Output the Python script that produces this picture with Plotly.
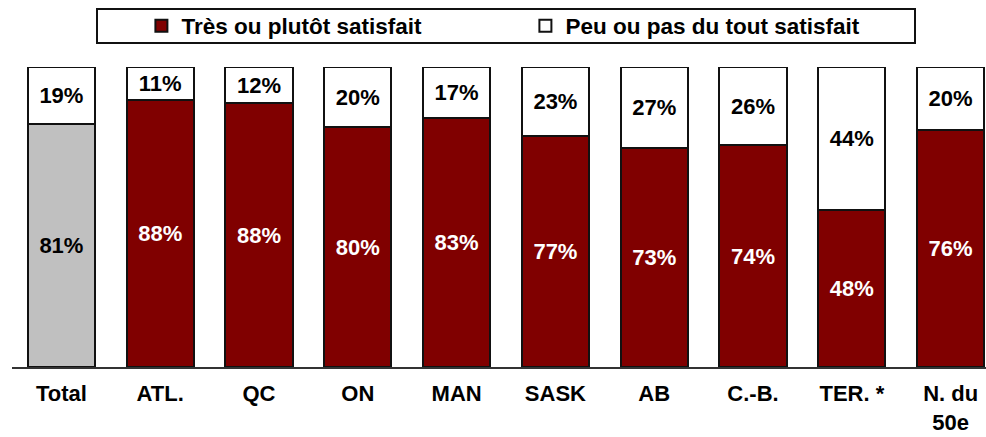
import plotly.graph_objects as go

categories = ["Total", "ATL.", "QC", "ON", "MAN", "SASK", "AB", "C.-B.", "TER. *", "N. du<br>50e"]
satisfied = [81, 88, 88, 80, 83, 77, 73, 74, 48, 76]
unsatisfied = [19, 11, 12, 20, 17, 23, 27, 26, 44, 20]

FONT = "Liberation Sans, Arial, sans-serif"
RED = "#800000"
GRAY = "#C0C0C0"
EDGE = "#111111"

W, H = 986, 437
L, T, B = 12, 67, 70
PW = W - L
PH = H - T - B

fig = go.Figure()

fig.add_trace(go.Bar(
    x=categories[:1], y=satisfied[:1],
    marker=dict(color=GRAY, line=dict(color=EDGE, width=2)),
    text=[f"{v}%" for v in satisfied[:1]],
    textposition="inside", insidetextanchor="middle", textangle=0,
    constraintext="none",
    textfont=dict(family=FONT, size=22, color="black", weight="bold"),
    showlegend=False, hoverinfo="skip",
))
fig.add_trace(go.Bar(
    x=categories[1:], y=satisfied[1:], name="Très ou plutôt satisfait",
    marker=dict(color=RED, line=dict(color=EDGE, width=2)),
    text=[f"{v}%" for v in satisfied[1:]],
    textposition="inside", insidetextanchor="middle", textangle=0,
    constraintext="none",
    textfont=dict(family=FONT, size=22, color="white", weight="bold"),
))
fig.add_trace(go.Bar(
    x=categories, y=unsatisfied, name="Peu ou pas du tout satisfait",
    marker=dict(color="white", line=dict(color=EDGE, width=2)),
    text=[f"{v}%" for v in unsatisfied],
    textposition="inside", insidetextanchor="middle", textangle=0,
    constraintext="none",
    textfont=dict(family=FONT, size=22, color="black", weight="bold"),
))

fig.update_layout(
    width=W, height=H,
    margin=dict(l=L, r=0, t=T, b=B, autoexpand=False),
    barmode="stack", barnorm="percent", bargap=0.32,
    plot_bgcolor="white", paper_bgcolor="white",
    font=dict(family=FONT, size=22, color="black", weight="bold"),
    showlegend=True,
    legend=dict(
        orientation="h", x=(141.4 - L) / PW, xanchor="left",
        y=(H - B - 26) / PH, yanchor="middle",
        font=dict(family=FONT, size=22.5, color="black", weight="bold"),
        entrywidth=339, entrywidthmode="pixels", itemwidth=30,
        bgcolor="rgba(0,0,0,0)", traceorder="normal",
    ),
    shapes=[dict(
        type="rect", xref="paper", yref="paper",
        x0=(97 - L) / PW, x1=(915 - L) / PW,
        y0=(H - B - 43) / PH, y1=(H - B - 9) / PH,
        line=dict(color=EDGE, width=2), fillcolor="rgba(0,0,0,0)",
        layer="below",
    )],
    xaxis=dict(
        range=[-0.5, 9.358], showline=True, linecolor="#333333", linewidth=1.5,
        ticks="", showgrid=False, zeroline=False, ticklabelstandoff=6,
        automargin=False,
        tickfont=dict(family=FONT, size=22, color="black", weight="bold"),
    ),
    yaxis=dict(range=[0, 100], visible=False, showgrid=False, zeroline=False,
               automargin=False),
)

fig.write_html(
    "out.html",
    config={"displayModeBar": False},
    post_script="document.body.style.margin='0px';document.body.style.overflow='hidden';",
)
